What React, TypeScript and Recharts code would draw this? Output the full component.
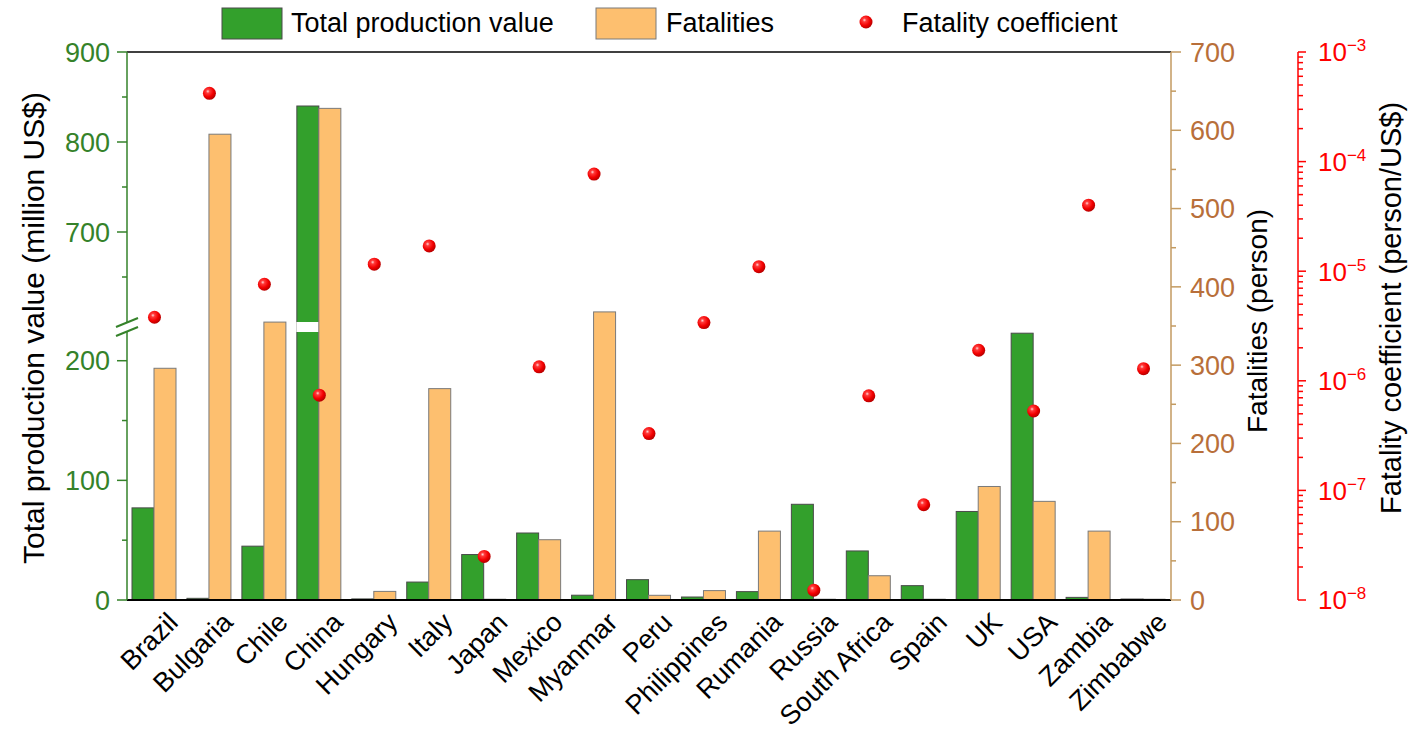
import React from 'react';
import { ComposedChart, Bar, Line, XAxis, YAxis, ReferenceLine } from 'recharts';

// ---------------- data ----------------
const COUNTRIES = [
  'Brazil', 'Bulgaria', 'Chile', 'China', 'Hungary', 'Italy', 'Japan', 'Mexico', 'Myanmar', 'Peru',
  'Philippines', 'Rumania', 'Russia', 'South Africa', 'Spain', 'UK', 'USA', 'Zambia', 'Zimbabwe',
];
// million US$
const PRODUCTION = [77, 1.4, 45, 840, 0.9, 15, 38, 56, 4, 17, 2.5, 7, 80, 41, 12, 74, 223, 2.2, 0.8];
// person
const FATALITIES = [296, 595, 355, 628, 11, 270, 1, 77, 368, 6, 12, 88, 1, 31, 1, 145, 126, 88, 1];
// person / US$
const COEFFICIENT = [
  3.8e-6, 4.2e-4, 7.6e-6, 7.4e-7, 1.16e-5, 1.7e-5, 2.5e-8, 1.34e-6, 7.7e-5, 3.3e-7,
  3.4e-6, 1.1e-5, 1.23e-8, 7.3e-7, 7.4e-8, 1.9e-6, 5.3e-7, 4.0e-5, 1.29e-6,
];
const SERIES_NAMES = ['Total production value', 'Fatalities', 'Fatality coefficient'];
const AXIS_TITLES = ['Total production value (million US$)', 'Fatalities (person)', 'Fatality coefficient (person/US$)'];

const LEFT_TICKS = [0, 50, 100, 150, 200, 650, 700, 750, 800, 850, 900];
const LEFT_LABELS = [0, 100, 200, 700, 800, 900];
const FAT_TICKS = [0, 50, 100, 150, 200, 250, 300, 350, 400, 450, 500, 550, 600, 650, 700];
const FAT_LABELS = [0, 100, 200, 300, 400, 500, 600, 700];
const COEF_DECADES = [-8, -7, -6, -5, -4];
const COEF_MULTS = [1, 2, 3, 4, 5, 6, 7, 8, 9];
const COEF_TOP = -3;

// broken axis definition (lower segment 0..LOW_MAX, upper HIGH_MIN..HIGH_MAX)
const LOW_MAX = 224;
const HIGH_MIN = 600;
const HIGH_MAX = 900;
const LOW_FRAC = 268 / 548;
const HIGH_START = 278 / 548;

// ---------------- styles ----------------
const FONT = "Arial, 'Liberation Sans', sans-serif";
const GREEN = '#33A02C';
const ORANGE = '#FDBF6F';
const LEFT_AXIS_COLOR = '#35822A';
const FAT_AXIS_COLOR = '#C39A60';
const FAT_LABEL_COLOR = '#B86F3A';
const RED = '#FF0000';

const W = 1426;
const H = 735;
const MARGIN = { top: 52, right: 48, bottom: 0, left: 0 };

const data = COUNTRIES.map((c, i) => ({
  country: c,
  production: PRODUCTION[i],
  fatalities: FATALITIES[i],
  coef: COEFFICIENT[i],
}));

const COEF_TICKS: number[] = [];
COEF_DECADES.forEach((d) => COEF_MULTS.forEach((m) => COEF_TICKS.push(m * Math.pow(10, d))));
COEF_TICKS.push(Math.pow(10, COEF_TOP));

// custom piecewise scale for the broken axis
function fracOf(v: number) {
  if (v <= LOW_MAX) return (v / LOW_MAX) * LOW_FRAC;
  if (v < HIGH_MIN) return LOW_FRAC + ((v - LOW_MAX) / (HIGH_MIN - LOW_MAX)) * (HIGH_START - LOW_FRAC);
  return HIGH_START + ((v - HIGH_MIN) / (HIGH_MAX - HIGH_MIN)) * (1 - HIGH_START);
}
function brokenScale(dom: any[] = [0, HIGH_MAX], rng: number[] = [0, 1]): any {
  let d = dom;
  let r = rng;
  const s: any = (v: number) => r[0] + fracOf(Number(v)) * (r[1] - r[0]);
  s.domain = (x?: any) => (x === undefined ? d : ((d = x), s));
  s.range = (x?: any) => (x === undefined ? r : ((r = x), s));
  s.copy = () => brokenScale(d, r);
  s.ticks = () => LEFT_TICKS;
  s.tickFormat = () => (v: number) => String(v);
  s.clamp = () => s;
  s.nice = () => s;
  s.invert = (px: number) => {
    const f = (px - r[0]) / (r[1] - r[0]);
    if (f <= LOW_FRAC) return (f / LOW_FRAC) * LOW_MAX;
    if (f < HIGH_START) return LOW_MAX;
    return HIGH_MIN + ((f - HIGH_START) / (1 - HIGH_START)) * (HIGH_MAX - HIGH_MIN);
  };
  return s;
}
const LEFT_SCALE = brokenScale();

// ---------------- shapes ----------------
const ProductionShape = (props: any) => {
  const { x, y, width, height, background, value } = props;
  if (!(height > 0)) return null;
  const bgTop = background && background.height ? background.y : MARGIN.top;
  const bgH = background && background.height ? background.height : 548;
  const bgBottom = bgTop + bgH;
  const v = Array.isArray(value) ? value[1] : value;
  const gapBottom = bgBottom - LOW_FRAC * bgH;
  const gapTop = bgBottom - HIGH_START * bgH;
  return (
    <g>
      <rect x={x} y={y} width={width} height={height} fill={GREEN} stroke="#4a4a4a" strokeWidth={1} />
      {v > LOW_MAX ? (
        <rect x={x - 0.5} y={gapTop} width={width + 0.5} height={gapBottom - gapTop} fill="#fff" />
      ) : null}
    </g>
  );
};

const FatalityShape = (props: any) => {
  const { x, y, width, height } = props;
  if (!(height > 0)) return null;
  return <rect x={x} y={y} width={width} height={height} fill={ORANGE} stroke="#7a7a7a" strokeWidth={1} />;
};

const GlossyDot = (props: any) => {
  const { cx, cy } = props;
  if (cx == null || cy == null || isNaN(cx) || isNaN(cy)) return null;
  return <circle cx={cx} cy={cy} r={6.5} fill="url(#redGloss)" />;
};

const LeftTick = (props: any) => {
  const { x, y, payload } = props;
  const v = payload.value;
  const major = LEFT_LABELS.indexOf(v) >= 0;
  return (
    <g>
      <line x1={x - (major ? 10 : 5)} x2={x} y1={y} y2={y} stroke={LEFT_AXIS_COLOR} strokeWidth={1.5} />
      {major ? (
        <text x={x - 17} y={y} dy="0.36em" textAnchor="end" fill={LEFT_AXIS_COLOR} fontSize={27} fontFamily={FONT}>
          {v}
        </text>
      ) : null}
    </g>
  );
};

const FatTick = (props: any) => {
  const { x, y, payload } = props;
  const v = payload.value;
  const major = FAT_LABELS.indexOf(v) >= 0;
  return (
    <g>
      <line x1={x} x2={x + (major ? 10 : 5)} y1={y} y2={y} stroke={FAT_AXIS_COLOR} strokeWidth={1.5} />
      {major ? (
        <text x={x + 19} y={y} dy="0.36em" textAnchor="start" fill={FAT_LABEL_COLOR} fontSize={27} fontFamily={FONT}>
          {v}
        </text>
      ) : null}
    </g>
  );
};

const CoefTick = (props: any) => {
  const { x, y, payload } = props;
  const v = payload.value;
  const e = Math.round(Math.log10(v));
  const major = Math.abs(Math.log10(v) - e) < 1e-6;
  return (
    <g>
      <line x1={x} x2={x + (major ? 8 : 5)} y1={y} y2={y} stroke={RED} strokeWidth={1.5} />
      {major ? (
        <text x={x + 20} y={y} dy="0.36em" textAnchor="start" fill={RED} fontSize={26} fontFamily={FONT}>
          <tspan>10</tspan>
          <tspan dy={-10} fontSize={17}>{'\u2212' + Math.abs(e)}</tspan>
        </text>
      ) : null}
    </g>
  );
};

const CountryTick = (props: any) => {
  const { x, y, payload } = props;
  return (
    <text
      transform={`translate(${x + 25},${y + 24}) rotate(-45)`}
      textAnchor="end"
      fill="#000"
      fontSize={27}
      fontFamily={FONT}
    >
      {payload.value}
    </text>
  );
};

// ---------------- overlay (legend, titles, axis break) ----------------
const Overlay = () => (
  <svg
    width={W}
    height={H}
    style={{ position: 'absolute', left: 0, top: 0, pointerEvents: 'none' }}
    fontFamily={FONT}
  >
    <defs>
      <radialGradient id="redGloss" cx="0.38" cy="0.35" r="0.65">
        <stop offset="0%" stopColor="#FFD6D6" />
        <stop offset="22%" stopColor="#FF3A3A" />
        <stop offset="65%" stopColor="#F20000" />
        <stop offset="100%" stopColor="#B80000" />
      </radialGradient>
    </defs>
    {/* legend */}
    <rect x={222} y={8} width={60} height={31} fill={GREEN} stroke="#4a4a4a" strokeWidth={1} />
    <text x={291} y={32} fontSize={27} fill="#000">{SERIES_NAMES[0]}</text>
    <rect x={596} y={8} width={60} height={31} fill={ORANGE} stroke="#7a7a7a" strokeWidth={1} />
    <text x={666} y={32} fontSize={27} fill="#000">{SERIES_NAMES[1]}</text>
    <circle cx={866} cy={22} r={6.5} fill="url(#redGloss)" />
    <text x={902} y={32} fontSize={27} fill="#000">{SERIES_NAMES[2]}</text>
    {/* axis titles */}
    <text transform="translate(44,328) rotate(-90)" textAnchor="middle" fontSize={30} fill="#000">
      {AXIS_TITLES[0]}
    </text>
    <text transform="translate(1267,321) rotate(-90)" textAnchor="middle" fontSize={28} fill="#000">
      {AXIS_TITLES[1]}
    </text>
    <text transform="translate(1401,308) rotate(-90)" textAnchor="middle" fontSize={29} fill="#000">
      {AXIS_TITLES[2]}
    </text>
    {/* axis break on left axis */}
    <rect x={123} y={322} width={8} height={10} fill="#fff" />
    <line x1={116} y1={336} x2={138} y2={327} stroke={LEFT_AXIS_COLOR} strokeWidth={2} />
    <line x1={116} y1={327} x2={138} y2={318} stroke={LEFT_AXIS_COLOR} strokeWidth={2} />
  </svg>
);

export default function App() {
  return (
    <div style={{ position: 'absolute', left: 0, top: 0, width: W, height: H, background: '#fff' }}>
      <ComposedChart width={W} height={H} data={data} margin={MARGIN} barGap={0}>
        <XAxis
          dataKey="country"
          type="category"
          interval={0}
          tick={<CountryTick />}
          tickSize={0}
          tickMargin={0}
          tickLine={false}
          height={135}
          axisLine={{ stroke: '#000', strokeWidth: 2 }}
        />
        <YAxis
          yAxisId="p"
          orientation="left"
          width={127}
          scale={LEFT_SCALE}
          type="number"
          domain={[0, HIGH_MAX]}
          allowDataOverflow
          ticks={LEFT_TICKS}
          interval={0}
          tick={<LeftTick />}
          tickSize={0}
          tickMargin={0}
          tickLine={false}
          axisLine={{ stroke: LEFT_AXIS_COLOR, strokeWidth: 1.5 }}
        />
        <YAxis
          yAxisId="a_fat"
          orientation="right"
          width={127}
          type="number"
          domain={[0, 700]}
          allowDataOverflow
          ticks={FAT_TICKS}
          interval={0}
          tick={<FatTick />}
          tickSize={0}
          tickMargin={0}
          tickLine={false}
          axisLine={{ stroke: FAT_AXIS_COLOR, strokeWidth: 1.5 }}
        />
        <YAxis
          yAxisId="b_coef"
          orientation="right"
          width={80}
          type="number"
          scale="log"
          domain={[1e-8, 1e-3]}
          allowDataOverflow
          ticks={COEF_TICKS}
          interval={0}
          tick={<CoefTick />}
          tickSize={0}
          tickMargin={0}
          tickLine={false}
          axisLine={{ stroke: RED, strokeWidth: 1.5 }}
        />
        <ReferenceLine yAxisId="a_fat" y={700} stroke="#000" strokeWidth={1.5} />
        <Bar
          yAxisId="p"
          dataKey="production"
          name={SERIES_NAMES[0]}
          barSize={22}
          shape={<ProductionShape />}
          isAnimationActive={false}
        />
        <Bar
          yAxisId="a_fat"
          dataKey="fatalities"
          name={SERIES_NAMES[1]}
          barSize={22}
          shape={<FatalityShape />}
          isAnimationActive={false}
        />
        <Line
          yAxisId="b_coef"
          dataKey="coef"
          name={SERIES_NAMES[2]}
          stroke="none"
          strokeWidth={0}
          dot={<GlossyDot />}
          activeDot={false}
          isAnimationActive={false}
        />
      </ComposedChart>
      <Overlay />
    </div>
  );
}
